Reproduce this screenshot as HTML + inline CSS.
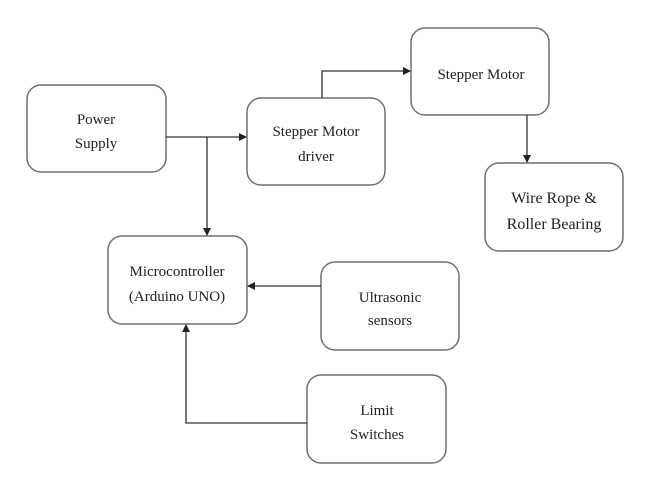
<!DOCTYPE html>
<html><head><meta charset="utf-8"><style>
body{margin:0;background:#fff;}
svg{display:block}
text{font-family:"Liberation Serif",serif;font-size:15px;fill:#222;text-anchor:middle}
rect{fill:#fff;stroke:#6f6f6f;stroke-width:1.5}
line,polyline{stroke:#333;stroke-width:1.3;fill:none}
</style></head><body>
<svg width="650" height="488" viewBox="0 0 650 488" xmlns="http://www.w3.org/2000/svg">
<defs><marker id="a" markerWidth="8" markerHeight="8" refX="7" refY="4" orient="auto" markerUnits="userSpaceOnUse"><path d="M0,0 L8,4 L0,8z" fill="#222"/></marker></defs>
<rect x="27" y="85" width="139" height="87" rx="14"/>
<rect x="247" y="98" width="138" height="87" rx="14"/>
<rect x="411" y="28" width="138" height="87" rx="14"/>
<rect x="485" y="163" width="138" height="88" rx="14"/>
<rect x="108" y="236" width="139" height="88" rx="14"/>
<rect x="321" y="262" width="138" height="88" rx="14"/>
<rect x="307" y="375" width="139" height="88" rx="14"/>
<line x1="166" y1="137" x2="246" y2="137" marker-end="url(#a)"/>
<line x1="207" y1="137" x2="207" y2="235" marker-end="url(#a)"/>
<polyline points="322,98 322,71 410,71" marker-end="url(#a)"/>
<line x1="527" y1="115" x2="527" y2="162" marker-end="url(#a)"/>
<line x1="321" y1="286" x2="248" y2="286" marker-end="url(#a)"/>
<polyline points="307,423 186,423 186,325" marker-end="url(#a)"/>
<text x="96" y="124">Power</text><text x="96" y="148">Supply</text>
<text x="316" y="136">Stepper Motor</text><text x="316" y="161">driver</text>
<text x="481" y="79">Stepper Motor</text>
<text x="554" y="203" style="font-size:16px">Wire Rope &amp;</text><text x="554" y="229" style="font-size:16px">Roller Bearing</text>
<text x="177" y="276">Microcontroller</text><text x="177" y="301">(Arduino UNO)</text>
<text x="390" y="302">Ultrasonic</text><text x="390" y="325">sensors</text>
<text x="377" y="415">Limit</text><text x="377" y="439">Switches</text>
</svg>
</body></html>
